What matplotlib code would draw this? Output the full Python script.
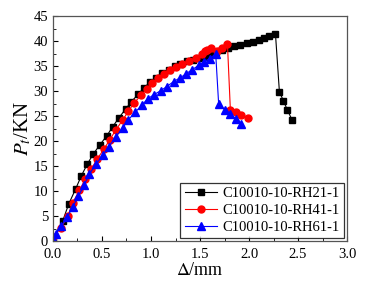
import matplotlib
matplotlib.use('Agg')
import matplotlib.pyplot as plt
from matplotlib.ticker import MultipleLocator

plt.rcParams['font.family'] = ['Liberation Serif', 'DejaVu Serif']
plt.rcParams['mathtext.fontset'] = 'stix'

# RH21-1
x21 = [0, 0.1, 0.16, 0.23, 0.29, 0.35, 0.41, 0.48, 0.55, 0.61, 0.67, 0.74, 0.80,
       0.87, 0.93, 0.99, 1.05, 1.11, 1.18, 1.24, 1.30, 1.37, 1.43, 1.49, 1.55,
       1.60, 1.66, 1.72, 1.79, 1.85, 1.91, 1.98, 2.04, 2.10, 2.15, 2.20, 2.27,
       2.31, 2.35, 2.39, 2.44]
y21 = [0.2, 4.1, 7.4, 10.4, 13.1, 15.4, 17.4, 19.3, 21.1, 22.9, 24.6, 26.4, 27.9,
       29.4, 30.7, 31.8, 32.7, 33.6, 34.3, 35.0, 35.5, 36.0, 36.3, 36.6, 36.9,
       37.3, 37.8, 38.2, 38.6, 39.0, 39.3, 39.6, 39.9, 40.3, 40.7, 41.1, 41.4,
       29.9, 28.1, 26.3, 24.2]

# RH41-1
x41 = [0, 0.08, 0.15, 0.2, 0.27, 0.33, 0.39, 0.45, 0.52, 0.58, 0.64, 0.71, 0.77,
       0.83, 0.90, 0.96, 1.01, 1.07, 1.13, 1.19, 1.25, 1.32, 1.39, 1.46, 1.52,
       1.55, 1.57, 1.61, 1.67, 1.72, 1.78, 1.81, 1.87, 1.92, 1.99]
y41 = [0.9, 2.6, 5.0, 7.6, 10.2, 12.4, 14.4, 16.4, 18.4, 20.3, 22.2, 24.2, 26.0,
       27.7, 29.2, 30.5, 31.6, 32.6, 33.5, 34.2, 34.9, 35.5, 36.1, 36.7, 37.5,
       38.0, 38.2, 38.6, 38.1, 38.7, 39.4, 26.2, 25.9, 25.3, 24.7]

# RH61-1
x61 = [0, 0.03, 0.085, 0.146, 0.2, 0.26, 0.32, 0.37, 0.44, 0.51, 0.57, 0.64, 0.71,
       0.77, 0.84, 0.91, 0.97, 1.03, 1.10, 1.16, 1.23, 1.30, 1.36, 1.42, 1.49,
       1.54, 1.60, 1.66, 1.69, 1.75, 1.81, 1.87, 1.92]
y61 = [0.5, 1.5, 3.0, 4.8, 6.8, 9.0, 11.3, 13.4, 15.4, 17.2, 18.9, 20.8, 22.6,
       24.3, 25.8, 27.3, 28.5, 29.3, 30.1, 30.9, 31.9, 32.7, 33.5, 34.3, 35.2,
       35.9, 36.5, 37.5, 27.5, 26.3, 25.4, 24.4, 23.4]

labels = ['C10010-10-RH21-1', 'C10010-10-RH41-1', 'C10010-10-RH61-1']

fig = plt.figure(figsize=(3.68, 2.93), dpi=100)
ax = fig.add_axes([0.144, 0.177, 0.799, 0.768])

ax.plot(x21, y21, color='black', marker='s', ms=4.5, lw=0.8, label=labels[0])
ax.plot(x41, y41, color='red', marker='o', ms=5, lw=0.8, label=labels[1],
        markeredgecolor='red')
ax.plot(x61, y61, color='blue', marker='^', ms=5.5, lw=0.8, label=labels[2],
        markeredgecolor='blue')

ax.set_xlim(0, 3.0)
ax.set_ylim(0, 45)
ax.xaxis.set_major_locator(MultipleLocator(0.5))
ax.xaxis.set_minor_locator(MultipleLocator(0.25))
ax.yaxis.set_major_locator(MultipleLocator(5))
ax.yaxis.set_minor_locator(MultipleLocator(2.5))
ax.tick_params(which='both', direction='in', labelsize=10.5)
ax.tick_params(which='major', length=3.5)
ax.tick_params(which='minor', length=2)
ax.tick_params(axis='x', pad=5)
for s in ax.spines.values():
    s.set_color('#555555')
    s.set_linewidth(0.9)

ax.set_xlabel(r'$\mathit{\Delta}$/mm', fontsize=13, labelpad=1)
ax.set_ylabel(r'$\mathit{P}_\mathit{t}$/KN', fontsize=15, labelpad=0)

leg = ax.legend(loc='lower right', fontsize=10.5, frameon=True, fancybox=False,
                handlelength=2.2, borderpad=0.3, labelspacing=0.25,
                handletextpad=0.4, borderaxespad=0.2)
leg.get_frame().set_edgecolor('black')
leg.get_frame().set_linewidth(0.9)

fig.savefig('out.png', dpi=100)
